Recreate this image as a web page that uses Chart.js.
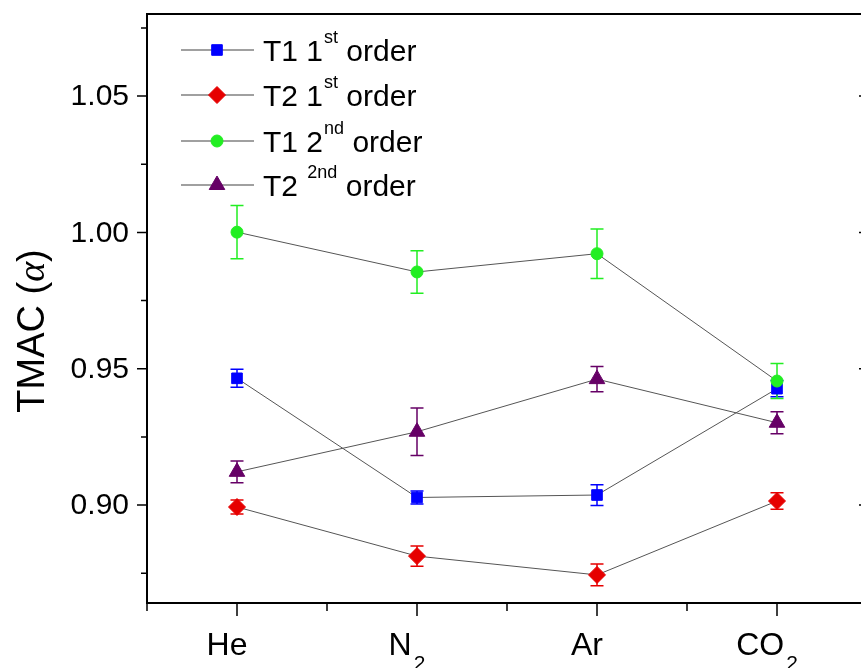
<!DOCTYPE html>
<html>
<head>
<meta charset="utf-8">
<script src="https://cdn.jsdelivr.net/npm/chart.js@4.4.0/dist/chart.umd.min.js"></script>
<style>
  html, body { margin: 0; padding: 0; background: #fff; overflow: hidden; }
  #wrap { width: 861px; height: 668px; overflow: hidden; position: relative; }
  canvas { position: absolute; left: 0; top: 0; }
</style>
</head>
<body>
<div id="wrap"><canvas id="tmac" width="868" height="668"></canvas></div>
<script>
// gases on the x axis (base text + subscript)
const gasNames = ['He', 'N', 'Ar', 'CO']
const gasSubs = ['', '2', '', '2']
const gasPos = [0, 1, 2, 3]

// TMAC values, with error half-widths
const t1First = [0.9465, 0.9028, 0.9037, 0.9427]
const t1FirstErr = [0.0033, 0.0024, 0.0038, 0.0030]
const t2First = [0.8993, 0.8813, 0.8744, 0.9015]
const t2FirstErr = [0.0026, 0.0037, 0.0040, 0.0030]
const t1Second = [1.0001, 0.9855, 0.9922, 0.9455]
const t1SecondErr = [0.0098, 0.0078, 0.0091, 0.0064]
const t2Second = [0.9122, 0.9269, 0.9462, 0.9302]
const t2SecondErr = [0.0040, 0.0087, 0.0046, 0.0040]

const yMajor = [0.90, 0.95, 1.00, 1.05]
const yMinor = [0.875, 0.925, 0.975, 1.025, 1.075]
const yTickLabels = ['0.90', '0.95', '1.00', '1.05']
const xMinor = [-0.5, 0.5, 1.5, 2.5, 3.5]

const legendMain = ['T1 1', 'T2 1', 'T1 2', 'T2 ']
const legendSup = ['st', 'st', 'nd', '2nd']
const legendTail = [' order', ' order', ' order', ' order']

const FONT = "'Liberation Sans', Arial, sans-serif"

function series(label, values, errs, color, style, radius, order) {
    return {
        label: label,
        data: values.map((v, i) => ({ x: gasPos[i], y: v })),
        errors: errs,
        order: order,
        showLine: true,
        borderColor: '#555555',
        borderWidth: 1,
        pointStyle: style,
        pointRadius: radius,
        pointHoverRadius: radius,
        pointBackgroundColor: color,
        pointBorderColor: color,
        pointBorderWidth: 1
    }
}

const datasets = [
    series('T1 1st order', t1First, t1FirstErr, '#0000ff', 'rect', 7.5, 4),
    series('T2 1st order', t2First, t2FirstErr, '#e60000', 'rectRot', 8.5, 3),
    series('T1 2nd order', t1Second, t1SecondErr, '#22ee22', 'circle', 6, 1),
    series('T2 2nd order', t2Second, t2SecondErr, '#660066', 'triangle', 9, 2)
]

const errorBars = {
    id: 'errorBars',
    beforeDatasetsDraw(chart) {
        const ctx = chart.ctx
        const xs = chart.scales.x, ys = chart.scales.y
        ctx.save()
        chart.data.datasets.forEach(ds => {
            ctx.strokeStyle = ds.pointBorderColor
            ctx.lineWidth = 1.5
            ds.data.forEach((p, i) => {
                const x = xs.getPixelForValue(p.x)
                const top = ys.getPixelForValue(p.y + ds.errors[i])
                const bot = ys.getPixelForValue(p.y - ds.errors[i])
                ctx.beginPath()
                ctx.moveTo(x, top); ctx.lineTo(x, bot)
                ctx.moveTo(x - 6.5, top); ctx.lineTo(x + 6.5, top)
                ctx.moveTo(x - 6.5, bot); ctx.lineTo(x + 6.5, bot)
                ctx.stroke()
            })
        })
        ctx.restore()
    }
}

const frameAndText = {
    id: 'frameAndText',
    afterDraw(chart) {
        const ctx = chart.ctx
        const a = chart.chartArea
        const xs = chart.scales.x, ys = chart.scales.y
        ctx.save()
        ctx.strokeStyle = '#000'
        ctx.lineWidth = 2
        ctx.strokeRect(a.left, a.top, a.right - a.left, a.bottom - a.top)

        // y ticks: outward on the left, inward on the right
        ctx.lineWidth = 1.5
        ctx.beginPath()
        yMajor.forEach(v => {
            const y = ys.getPixelForValue(v)
            ctx.moveTo(a.left - 10, y); ctx.lineTo(a.left, y)
            ctx.moveTo(a.right - 8, y); ctx.lineTo(a.right, y)
        })
        yMinor.forEach(v => {
            const y = ys.getPixelForValue(v)
            ctx.moveTo(a.left - 6, y); ctx.lineTo(a.left, y)
        })
        gasPos.forEach(v => {
            const x = xs.getPixelForValue(v)
            ctx.moveTo(x, a.bottom); ctx.lineTo(x, a.bottom + 13)
        })
        xMinor.forEach(v => {
            const x = xs.getPixelForValue(v)
            ctx.moveTo(x, a.bottom); ctx.lineTo(x, a.bottom + 8)
        })
        ctx.stroke()

        // y tick labels
        ctx.fillStyle = '#000'
        ctx.font = '30px ' + FONT
        ctx.textAlign = 'right'
        ctx.textBaseline = 'middle'
        yMajor.forEach((v, i) => {
            ctx.fillText(yTickLabels[i], a.left - 18, ys.getPixelForValue(v) + 1)
        })

        // x labels with subscripts
        ctx.textAlign = 'left'
        ctx.textBaseline = 'alphabetic'
        gasPos.forEach((v, i) => {
            ctx.font = '32px ' + FONT
            const wMain = ctx.measureText(gasNames[i]).width
            ctx.font = '21px ' + FONT
            const wSub = gasSubs[i] ? ctx.measureText(gasSubs[i]).width + 2 : 0
            const x0 = xs.getPixelForValue(v) - 10 - (wMain + wSub) / 2
            ctx.font = '32px ' + FONT
            ctx.fillText(gasNames[i], x0, 655)
            if (gasSubs[i]) {
                ctx.font = '21px ' + FONT
                ctx.fillText(gasSubs[i], x0 + wMain + 2, 670)
            }
        })

        // y axis title
        ctx.save()
        ctx.translate(34, 331)
        ctx.rotate(-Math.PI / 2)
        ctx.textBaseline = 'middle'
        const f1 = '38px ' + FONT, f2 = 'italic 38px "Liberation Serif", serif'
        ctx.font = f1
        const w1 = ctx.measureText('TMAC (').width
        const w3 = ctx.measureText(')').width
        ctx.font = f2
        const w2 = ctx.measureText('\u03b1').width
        let tx = -(w1 + w2 + w3) / 2
        ctx.font = f1
        ctx.fillText('TMAC (', tx, 0)
        ctx.font = f2
        ctx.fillText('\u03b1', tx + w1, 0)
        ctx.font = f1
        ctx.fillText(')', tx + w1 + w2, 0)
        ctx.restore()

        // legend
        const rows = [50, 95, 141, 185]
        chart.data.datasets.forEach((ds, i) => {
            const y = rows[i]
            ctx.strokeStyle = '#a0a0a0'
            ctx.lineWidth = 2
            ctx.beginPath()
            ctx.moveTo(181, y); ctx.lineTo(254, y)
            ctx.stroke()
            ctx.fillStyle = ds.pointBackgroundColor
            ctx.strokeStyle = ds.pointBorderColor
            ctx.lineWidth = 1
            Chart.helpers.drawPoint(ctx, { pointStyle: ds.pointStyle, radius: ds.pointRadius, rotation: 0, borderWidth: 1 }, 217, y)
            ctx.fillStyle = '#000'
            ctx.textBaseline = 'alphabetic'
            ctx.font = '30px ' + FONT
            let x = 263
            ctx.fillText(legendMain[i], x, y + 11)
            x += ctx.measureText(legendMain[i]).width + 1
            ctx.font = '18px ' + FONT
            ctx.fillText(legendSup[i], x, y - 7)
            x += ctx.measureText(legendSup[i]).width
            ctx.font = '30px ' + FONT
            ctx.fillText(legendTail[i], x, y + 11)
        })
        ctx.restore()
    }
}

new Chart(document.getElementById('tmac'), {
    type: 'scatter',
    data: { datasets: datasets },
    options: {
        responsive: false,
        animation: false,
        devicePixelRatio: 1,
        layout: { autoPadding: false, padding: { left: 147, right: 1, top: 14, bottom: 65 } },
        plugins: { legend: { display: false }, tooltip: { enabled: false } },
        scales: {
            x: { type: 'linear', display: false, min: -0.5, max: 3.5 },
            y: { type: 'linear', display: false, min: 0.8641, max: 1.0801 }
        }
    },
    plugins: [errorBars, frameAndText]
})
</script>
</body>
</html>
